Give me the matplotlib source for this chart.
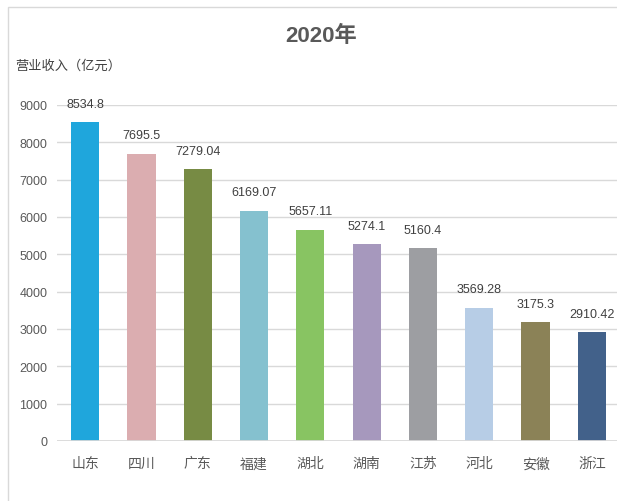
import matplotlib
matplotlib.use("Agg")
import matplotlib.pyplot as plt
from matplotlib.patches import Rectangle

plt.rcParams['font.family'] = ['Liberation Sans', 'Noto Sans CJK SC', 'DejaVu Sans']

provinces = ["山东", "四川", "广东", "福建", "湖北", "湖南", "江苏", "河北", "安徽", "浙江"]
revenue = [8534.8, 7695.5, 7279.04, 6169.07, 5657.11, 5274.1, 5160.4, 3569.28, 3175.3, 2910.42]
value_labels = ["8534.8", "7695.5", "7279.04", "6169.07", "5657.11", "5274.1", "5160.4", "3569.28", "3175.3", "2910.42"]
bar_colors = ["#1fa6dc", "#dbadb0", "#778b44", "#85c1cf", "#88c462",
              "#a698bd", "#9d9ea2", "#b7cde6", "#8b8257", "#42618a"]
y_ticks = [0, 1000, 2000, 3000, 4000, 5000, 6000, 7000, 8000, 9000]

fig = plt.figure(figsize=(6.17, 5.02), dpi=100)
fig.patch.set_facecolor("white")

# outer chart frame (cut off on the right / bottom like the screenshot)
fig.patches.append(Rectangle((8 / 617, -0.05), 1.1, 1 - 8 / 502 + 0.05,
                             transform=fig.transFigure, fill=False,
                             edgecolor="#d9d9d9", linewidth=1))

ax = fig.add_axes([57 / 617, 1 - 442 / 502, 563 / 617, 336 / 502])
x = range(len(provinces))
ax.bar(x, revenue, width=0.5, color=bar_colors, zorder=3)

for i, v in enumerate(revenue):
    ax.annotate(value_labels[i], (i, v), xytext=(0, 9), textcoords="offset points",
                ha="center", va="bottom", fontsize=9, color="#404040")

ax.set_xlim(-0.5, 9.5)
ax.set_ylim(0, 9000)
ax.set_yticks(y_ticks)
ax.set_xticks(list(x))
ax.set_xticklabels(provinces, fontsize=10, color="#595959")
ax.tick_params(axis="y", length=0, pad=7, labelsize=9, labelcolor="#595959")
ax.tick_params(axis="x", length=0, pad=11)
ax.grid(axis="y", color="#d9d9d9", linewidth=1, zorder=0)
for s in ax.spines.values():
    s.set_visible(False)
ax.axhline(0, color="#d9d9d9", linewidth=2, zorder=4)

fig.text(0.52, 1 - 36 / 502, "2020年", ha="center", va="center",
         fontsize=16, fontweight="bold", color="#595959")
fig.text(15 / 617, 1 - 66 / 502, "营业收入（亿元）", ha="left", va="center",
         fontsize=9.5, color="#404040")

fig.savefig("out.png", dpi=100)
